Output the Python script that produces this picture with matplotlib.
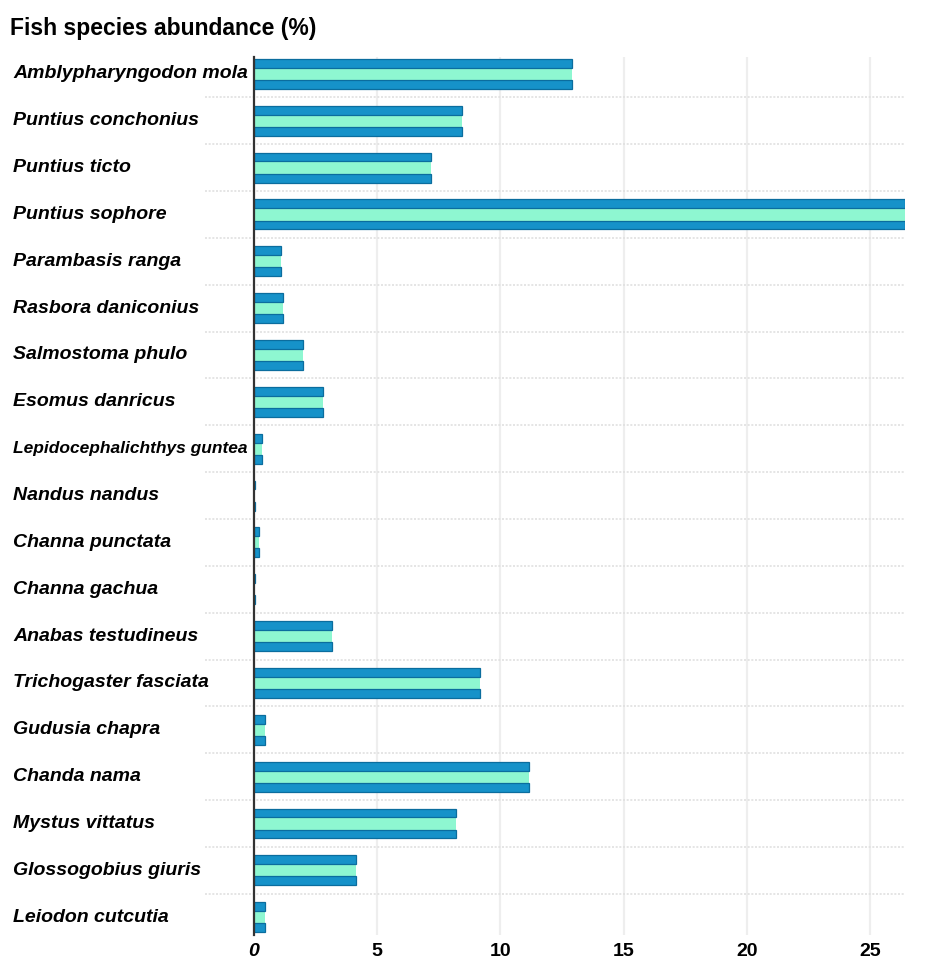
"""Fish species abundance (%) - horizontal striped bar chart."""

import matplotlib
matplotlib.use("Agg")
import matplotlib.pyplot as plt
import matplotlib.transforms as mtransforms
import numpy as np

# ---------------------------------------------------------------------------
# data
# ---------------------------------------------------------------------------
species = [
    "Amblypharyngodon mola",
    "Puntius conchonius",
    "Puntius ticto",
    "Puntius sophore",
    "Parambasis ranga",
    "Rasbora daniconius",
    "Salmostoma phulo",
    "Esomus danricus",
    "Lepidocephalichthys guntea",
    "Nandus nandus",
    "Channa punctata",
    "Channa gachua",
    "Anabas testudineus",
    "Trichogaster fasciata",
    "Gudusia chapra",
    "Chanda nama",
    "Mystus vittatus",
    "Glossogobius giuris",
    "Leiodon cutcutia",
]
abundance = [12.89, 8.44, 7.19, 26.4, 1.08, 1.19, 1.98, 2.78, 0.33, 0.05,
             0.22, 0.05, 3.17, 9.16, 0.46, 11.18, 8.18, 4.14, 0.45]
xticks = [0, 5, 10, 15, 20, 25]

# ---------------------------------------------------------------------------
# style
# ---------------------------------------------------------------------------
C_DARK = "#1692c9"
C_EDGE = "#0b6d9e"
C_MINT = "#8ef7d1"
C_GRID_V = "#eeeeee"
C_GRID_H = "#e0e0e0"

plt.rcParams["font.family"] = ["Liberation Sans", "DejaVu Sans"]

fig = plt.figure(figsize=(9.35, 9.72), dpi=100)
ax = fig.add_axes([254 / 935, 1 - 935 / 972, (905 - 254) / 935, (935 - 57) / 972])

y = np.arange(len(species))
vals = np.array(abundance)

h_dark, h_mint = 0.19, 0.26
off = (h_dark + h_mint) / 2

ax.barh(y - off, vals, h_dark, color=C_DARK, edgecolor=C_EDGE, linewidth=0.9, zorder=3)
ax.barh(y, vals, h_mint, color=C_MINT, edgecolor="none", zorder=2.9)
ax.barh(y + off, vals, h_dark, color=C_DARK, edgecolor=C_EDGE, linewidth=0.9, zorder=3)

ax.set_xlim(0, 26.42)
ax.set_ylim(18.38, -0.36)

# grid
for xv in xticks[1:]:
    ax.axvline(xv, color=C_GRID_V, lw=1.6, zorder=0)
ax.hlines(y[:-1] + 0.5, -2.0, 26.42, colors=C_GRID_H, lw=1.2,
          linestyles=(0, (1.2, 1.0)), clip_on=False, zorder=1)

for side in ("top", "right", "bottom"):
    ax.spines[side].set_visible(False)
ax.spines["left"].set_color("#333333")
ax.spines["left"].set_linewidth(1.6)
ax.spines["left"].set_zorder(4)

ax.set_yticks([])
ax.set_xticks(xticks)
ax.set_xticklabels([str(t) for t in xticks], fontsize=14, fontweight="bold")
ax.get_xticklabels()[0].set_style("italic")
ax.tick_params(axis="x", length=0, pad=6)

# species labels, left aligned in the figure margin
trans = mtransforms.blended_transform_factory(fig.transFigure, ax.transData)
for yi, name in zip(y, species):
    fs = 12.5 if len(name) > 24 else 14
    ax.text(13 / 935, yi, name, transform=trans, ha="left", va="center",
            fontsize=fs, fontweight="bold", fontstyle="italic")

fig.text(10 / 935, 1 - 35 / 972, "Fish species abundance (%)", ha="left",
         va="baseline", fontsize=16.5, fontweight="bold")

fig.savefig("out.png", dpi=100)
